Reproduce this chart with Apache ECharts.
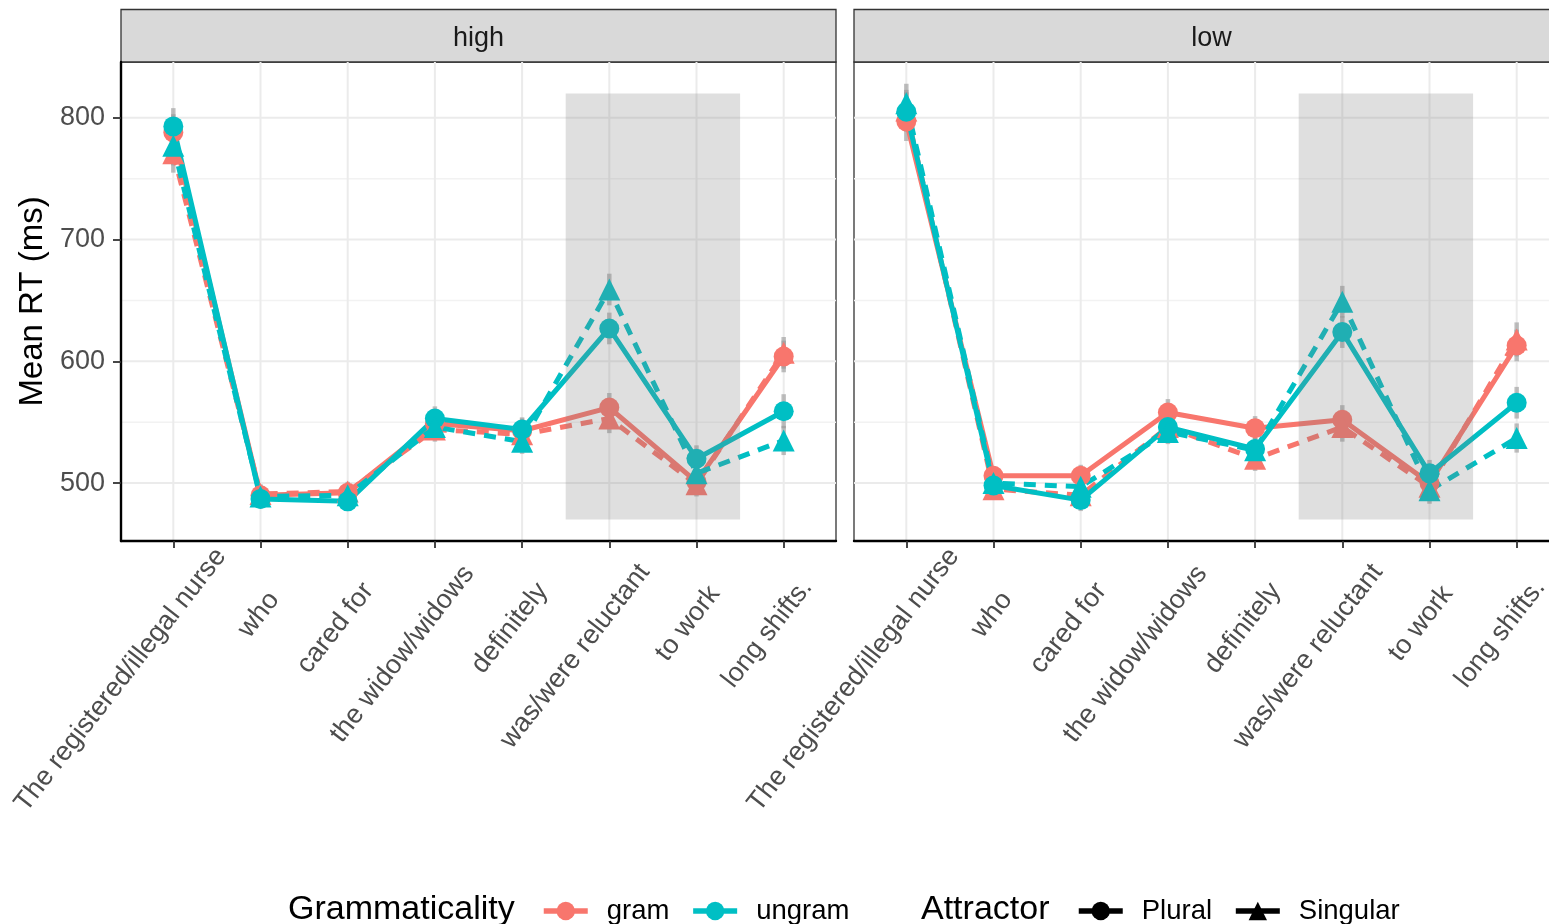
<!DOCTYPE html>
<html>
<head>
<meta charset="utf-8">
<script src="https://cdn.jsdelivr.net/npm/echarts@6/dist/echarts.min.js"></script>
<style>
    html, body { margin: 0; padding: 0; background: #fff; }
    #main { width: 1549px; height: 924px; }
</style>
</head>
<body>
<div id="main"></div>
<script>
// sentence regions on the x axis
var regions = ['The registered/illegal nurse', 'who', 'cared for', 'the widow/widows',
    'definitely', 'was/were reluctant', 'to work', 'long shifts.'];
var panels = ['high', 'low'];
var yTicks = [500, 600, 700, 800];
var yMinor = [550, 650, 750];
var shadeBox = [4.5, 470, 6.5, 820];   // x0, y0, x1, y1

// mean RT (ms), attachment = high
var highGramPlural = [788, 490, 492, 549, 543, 562, 501, 604];
var highGramSingular = [771, 491, 493, 544, 540, 553, 499, 607];
var highUngramPlural = [793, 487, 485, 553, 544, 627, 520, 559];
var highUngramSingular = [777, 489, 490, 546, 534, 659, 508, 535];
// mean RT (ms), attachment = low
var lowGramPlural = [797, 506, 506, 558, 545, 552, 500, 613];
var lowGramSingular = [806, 495, 490, 546, 520, 546, 497, 618];
var lowUngramPlural = [805, 498, 486, 546, 528, 624, 508, 566];
var lowUngramSingular = [812, 500, 497, 542, 527, 649, 494, 537];

// standard errors (ms)
var highGramPluralSe = [15, 8, 8, 10, 10, 12, 10, 13];
var highGramSingularSe = [16, 8, 8, 10, 10, 12, 10, 13];
var highUngramPluralSe = [15, 8, 8, 10, 10, 13, 11, 14];
var highUngramSingularSe = [16, 8, 8, 10, 10, 13, 11, 12];
var lowGramPluralSe = [16, 8, 9, 11, 10, 12, 10, 13];
var lowGramSingularSe = [17, 8, 9, 10, 10, 12, 10, 14];
var lowUngramPluralSe = [16, 8, 9, 10, 10, 13, 11, 13];
var lowUngramSingularSe = [16, 8, 9, 10, 10, 13, 11, 12];

var RED = '#F8766D', CYAN = '#00BFC4';
var groups = [
    {name: 'gram', att: 'Plural', color: RED, data: [highGramPlural, lowGramPlural], se: [highGramPluralSe, lowGramPluralSe]},
    {name: 'gram', att: 'Singular', color: RED, data: [highGramSingular, lowGramSingular], se: [highGramSingularSe, lowGramSingularSe]},
    {name: 'ungram', att: 'Plural', color: CYAN, data: [highUngramPlural, lowUngramPlural], se: [highUngramPluralSe, lowUngramPluralSe]},
    {name: 'ungram', att: 'Singular', color: CYAN, data: [highUngramSingular, lowUngramSingular], se: [highUngramSingularSe, lowUngramSingularSe]}
];

var FONT = 'Liberation Sans';
var labelSize = 27;
var lineW = 5;
var catIdx = regions.map(function (r, i) { return i; });

// rotated labels: anchor sits ~80% along the text, like the ggplot output
var ctx = document.createElement('canvas').getContext('2d');
ctx.font = labelSize + 'px "' + FONT + '"';
var rich = {t: {fontSize: labelSize, fontFamily: FONT, color: '#4D4D4D'}};
regions.forEach(function (r, i) {
    var w = Math.max(0, 0.6 * ctx.measureText(r).width - 24.4);
    rich['s' + i] = {width: w, fontSize: labelSize};
});

var myChart = echarts.init(document.getElementById('main'));

var grids = [], xAxes = [], yAxes = [], series = [], graphics = [];

panels.forEach(function (panel, p) {
    var left = p === 0 ? 121 : 854;
    grids.push({
        left: left, top: 62, width: 715, height: 479,
        show: true, backgroundColor: '#fff', borderColor: '#333', borderWidth: 1.3,
        containLabel: false, outerBoundsMode: 'none'
    });
    xAxes.push({
        type: 'value', gridIndex: p, min: -0.6, max: 7.6, z: 20,
        axisLine: {show: true, onZero: false, lineStyle: {color: '#000', width: 2.4}},
        axisTick: {show: true, customValues: catIdx, length: 7, lineStyle: {color: '#333', width: 1.8}},
        axisLabel: {
            show: true, customValues: catIdx, rotate: 52, align: 'center', margin: 71.6,
            formatter: function (v) {
                var i = Math.round(v);
                return '{t|' + regions[i] + '}{s' + i + '| }';
            },
            rich: rich
        },
        splitLine: {show: false}
    });
    yAxes.push({
        type: 'value', gridIndex: p, min: 452.4, max: 845.9, z: 20,
        name: p === 0 ? 'Mean RT (ms)' : '',
        nameLocation: 'middle', nameRotate: 90, nameGap: 72,
        nameTextStyle: {fontSize: 33, fontFamily: FONT, color: '#000'},
        axisLine: {show: p === 0, onZero: false, lineStyle: {color: '#000', width: 2.4}},
        axisTick: {show: p === 0, customValues: yTicks, length: 8, lineStyle: {color: '#333', width: 1.8}},
        axisLabel: {
            show: p === 0, customValues: yTicks, margin: 16,
            fontSize: labelSize, fontFamily: FONT, color: '#4D4D4D'
        },
        splitLine: {show: false}
    });

    // background grid lines
    series.push({
        type: 'custom', xAxisIndex: p, yAxisIndex: p, z: 1, silent: true,
        data: yTicks.map(function (v) { return [0, v, 1]; }).concat(yMinor.map(function (v) { return [0, v, 0]; })),
        encode: {x: 0, y: 1},
        renderItem: function (params, api) {
            var cs = params.coordSys;
            var y = api.coord([0, api.value(1)])[1];
            return {
                type: 'line',
                shape: {x1: cs.x, y1: y, x2: cs.x + cs.width, y2: y},
                style: {stroke: api.value(2) ? '#EBEBEB' : '#F2F2F2', lineWidth: api.value(2) ? 2 : 1.6}
            };
        }
    });
    series.push({
        type: 'custom', xAxisIndex: p, yAxisIndex: p, z: 1, silent: true,
        data: catIdx.map(function (i) { return [i, 600]; }),
        encode: {x: 0, y: 1},
        renderItem: function (params, api) {
            var cs = params.coordSys;
            var x = api.coord([api.value(0), 600])[0];
            return {
                type: 'line',
                shape: {x1: x, y1: cs.y, x2: x, y2: cs.y + cs.height},
                style: {stroke: '#EBEBEB', lineWidth: 2}
            };
        }
    });

    groups.forEach(function (g) {
        var vals = g.data[p], se = g.se[p];
        // error bars
        series.push({
            type: 'custom', xAxisIndex: p, yAxisIndex: p, z: 2, silent: true,
            data: vals.map(function (v, i) { return [i, v - se[i], v + se[i]]; }),
            encode: {x: 0, y: [1, 2]},
            renderItem: function (params, api) {
                var lo = api.coord([api.value(0), api.value(1)]);
                var hi = api.coord([api.value(0), api.value(2)]);
                return {
                    type: 'line',
                    shape: {x1: lo[0], y1: lo[1], x2: hi[0], y2: hi[1]},
                    style: {stroke: 'rgba(150,150,150,0.6)', lineWidth: 4.5}
                };
            }
        });
        series.push({
            type: 'line', name: g.name, xAxisIndex: p, yAxisIndex: p, z: 3,
            data: vals.map(function (v, i) { return [i, v]; }),
            symbol: g.att === 'Plural' ? 'circle' : 'triangle',
            symbolSize: g.att === 'Plural' ? 20 : 22,
            showAllSymbol: true,
            lineStyle: {color: g.color, width: lineW, type: g.att === 'Plural' ? 'solid' : [12, 9]},
            itemStyle: {color: g.color},
            emphasis: {disabled: true}
        });
    });

    // shaded critical region, drawn on top of the lines
    series.push({
        type: 'custom', xAxisIndex: p, yAxisIndex: p, z: 10, silent: true,
        data: [shadeBox],
        encode: {x: [0, 2], y: [1, 3]},
        renderItem: function (params, api) {
            var a = api.coord([api.value(0), api.value(1)]);
            var b = api.coord([api.value(2), api.value(3)]);
            return {
                type: 'rect',
                shape: {x: a[0], y: b[1], width: b[0] - a[0], height: a[1] - b[1]},
                style: {fill: 'rgba(127,127,127,0.25)'}
            };
        }
    });

    // facet strip
    graphics.push({
        type: 'rect', shape: {x: left, y: 9.5, width: 715, height: 52.5},
        style: {fill: '#D9D9D9', stroke: '#333', lineWidth: 1.3}
    });
    graphics.push({
        type: 'text', x: left + 357.5, y: 38.5,
        style: {text: panel, align: 'center', verticalAlign: 'middle',
            fontSize: labelSize, fontFamily: FONT, fill: '#1A1A1A'}
    });
});

// legend-only series for the shape key
series.push({type: 'line', name: 'Plural', xAxisIndex: 0, yAxisIndex: 0, data: [],
    symbol: 'circle', lineStyle: {color: '#000', width: lineW}, itemStyle: {color: '#000'}});
series.push({type: 'line', name: 'Singular', xAxisIndex: 0, yAxisIndex: 0, data: [],
    symbol: 'triangle', lineStyle: {color: '#000', width: lineW}, itemStyle: {color: '#000'}});

graphics.push({
    type: 'text', x: 288, y: 910,
    style: {text: 'Grammaticality', verticalAlign: 'middle', fontSize: 34, fontFamily: FONT, fill: '#000'}
});
graphics.push({
    type: 'text', x: 921, y: 910,
    style: {text: 'Attractor', verticalAlign: 'middle', fontSize: 34, fontFamily: FONT, fill: '#000'}
});

var legendText = {fontSize: 27.5, fontFamily: FONT, color: '#000', padding: [0, 0, 0, 14]};

var option = {
    animation: false,
    backgroundColor: '#fff',
    grid: grids,
    xAxis: xAxes,
    yAxis: yAxes,
    graphic: graphics,
    legend: [{
        data: ['gram', 'ungram'], orient: 'horizontal', left: 541, top: 897,
        itemWidth: 44, itemHeight: 23, itemGap: 21, padding: 0,
        lineStyle: {width: 5.5}, selectedMode: false, textStyle: legendText
    }, {
        data: ['Plural', 'Singular'], orient: 'horizontal', left: 1076, top: 897,
        itemWidth: 44, itemHeight: 23, itemGap: 21, padding: 0,
        lineStyle: {width: 5.5}, selectedMode: false, textStyle: legendText
    }],
    series: series
};
myChart.setOption(option);
</script>
</body>
</html>
